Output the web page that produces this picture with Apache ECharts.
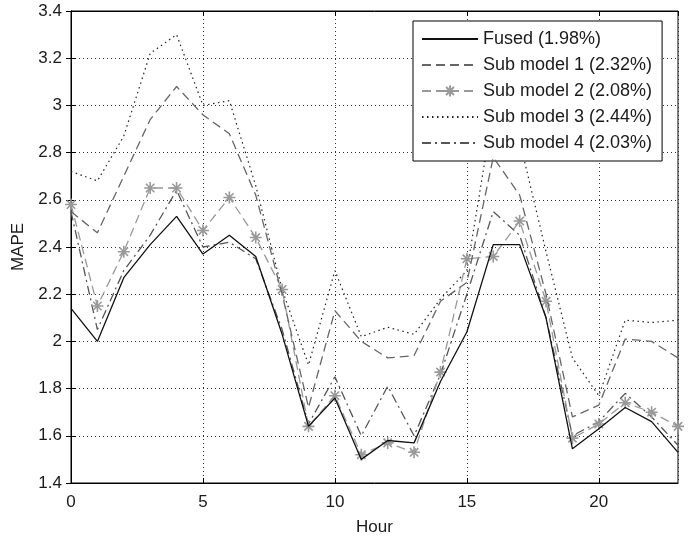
<!DOCTYPE html>
<html>
<head>
<meta charset="utf-8">
<script src="https://cdn.jsdelivr.net/npm/echarts@6/dist/echarts.min.js"></script>
<style>
html,body{margin:0;padding:0;background:#fff;}
#chart{width:694px;height:541px;}
</style>
</head>
<body>
<div id="chart"></div>
<script>
const hours = [0,1,2,3,4,5,6,7,8,9,10,11,12,13,14,15,16,17,18,19,20,21,22,23];
const seriesNames = ['Fused (1.98%)','Sub model 1 (2.32%)','Sub model 2 (2.08%)','Sub model 3 (2.44%)','Sub model 4 (2.03%)'];
const fused = [2.14,2.00,2.27,2.41,2.53,2.37,2.45,2.36,2.03,1.64,1.76,1.50,1.58,1.57,1.83,2.04,2.41,2.41,2.10,1.545,1.63,1.72,1.66,1.53];
const sub1  = [2.55,2.46,2.70,2.94,3.08,2.96,2.88,2.62,2.20,1.72,2.13,2.00,1.93,1.94,2.17,2.25,2.78,2.62,2.20,1.68,1.73,2.01,2.00,1.93];
const sub2  = [2.58,2.15,2.38,2.65,2.65,2.47,2.61,2.44,2.22,1.64,1.77,1.52,1.57,1.53,1.87,2.35,2.36,2.51,2.17,1.59,1.65,1.74,1.70,1.64];
const sub3  = [2.72,2.68,2.87,3.22,3.30,3.00,3.02,2.66,2.22,1.90,2.30,2.02,2.06,2.03,2.18,2.30,2.98,2.85,2.38,1.93,1.77,2.09,2.08,2.09];
const sub4  = [2.55,2.05,2.30,2.45,2.64,2.40,2.42,2.35,2.05,1.65,1.85,1.60,1.81,1.60,1.86,2.20,2.55,2.45,2.10,1.60,1.66,1.78,1.68,1.56];
const xTicks = {min:0, max:23, interval:5};
const yTicks = {min:1.4, max:3.4, interval:0.2};

const pair = arr => hours.map((h,i)=>[h, arr[i]]);
const FONT = 'Liberation Sans, Arial, sans-serif';
const txt = '#1a1a1a';
const star = 'path://M0,-6L0,6M-6,0L6,0M-4.2,-4.2L4.2,4.2M-4.2,4.2L4.2,-4.2';

function plainLine(name, data, color, width, type, z) {
  return {name:name, type:'line', data:pair(data), symbol:'none', z:z,
    lineStyle:{color:color, width:width, type:type},
    itemStyle:{color:color}};
}
const hiddenMark = {opacity:0};

const chart = echarts.init(document.getElementById('chart'), null, {renderer:'canvas'});
const yFmt = v => String(+v.toFixed(1));
chart.setOption({
  backgroundColor:'#fff',
  animation:false,
  grid:{left:71, right:16, top:11, bottom:51, show:true, borderColor:'#000', borderWidth:1, backgroundColor:'transparent'},
  legend:{
    orient:'vertical', left:413, top:21,
    padding:[9,10,9,8], itemGap:8, itemWidth:56, itemHeight:14,
    backgroundColor:'#fff', borderColor:'#000', borderWidth:1, borderRadius:0,
    textStyle:{fontFamily:FONT, fontSize:18, color:txt},
    data:[
      {name:seriesNames[0], itemStyle:hiddenMark},
      {name:seriesNames[1], itemStyle:hiddenMark},
      {name:seriesNames[2]},
      {name:seriesNames[3], itemStyle:hiddenMark},
      {name:seriesNames[4], itemStyle:hiddenMark}
    ]
  },
  xAxis:[{
    type:'value', min:xTicks.min, max:xTicks.max, interval:xTicks.interval,
    name:'Hour', nameLocation:'middle', nameGap:36,
    nameTextStyle:{fontFamily:FONT, fontSize:17, color:txt},
    axisLine:{show:true, lineStyle:{color:'#000', width:1}},
    axisTick:{show:true, inside:true, length:5, lineStyle:{color:'#000'}},
    axisLabel:{fontFamily:FONT, fontSize:17, color:txt, margin:11, showMaxLabel:false},
    splitLine:{show:true, lineStyle:{color:'#333', type:[1,3], width:1}}
  },{
    type:'value', position:'top', min:xTicks.min, max:xTicks.max, interval:xTicks.interval,
    axisLine:{show:true, lineStyle:{color:'#000'}},
    axisTick:{show:true, inside:true, length:5, lineStyle:{color:'#000'}},
    axisLabel:{show:false}, splitLine:{show:false}
  }],
  yAxis:[{
    type:'value', min:yTicks.min, max:yTicks.max, interval:yTicks.interval,
    name:'MAPE', nameLocation:'middle', nameGap:44, nameRotate:90,
    nameTextStyle:{fontFamily:FONT, fontSize:17, color:txt},
    axisLine:{show:true, lineStyle:{color:'#000', width:1}},
    axisTick:{show:true, inside:true, length:5, lineStyle:{color:'#000'}},
    axisLabel:{fontFamily:FONT, fontSize:17, color:txt, margin:9, formatter:yFmt},
    splitLine:{show:true, lineStyle:{color:'#333', type:[1,3], width:1}}
  },{
    type:'value', position:'right', min:yTicks.min, max:yTicks.max, interval:yTicks.interval,
    axisLine:{show:true, lineStyle:{color:'#000'}},
    axisTick:{show:true, inside:true, length:5, lineStyle:{color:'#000'}},
    axisLabel:{show:false}, splitLine:{show:false}
  }],
  series:[
    plainLine(seriesNames[0], fused, '#111', 1.3, 'solid', 5),
    plainLine(seriesNames[1], sub1, '#666', 1.3, [9,5], 4),
    {name:seriesNames[2], type:'line', data:pair(sub2), symbol:star, symbolSize:12, z:3,
     lineStyle:{color:'#999', width:1.3, type:[9,5]},
     itemStyle:{color:'#999', borderColor:'#999', borderWidth:1.6}},
    plainLine(seriesNames[3], sub3, '#222', 1.2, [1.5,3.5], 2),
    plainLine(seriesNames[4], sub4, '#555', 1.3, [9,4,2,4], 2)
  ]
});
</script>
</body>
</html>
